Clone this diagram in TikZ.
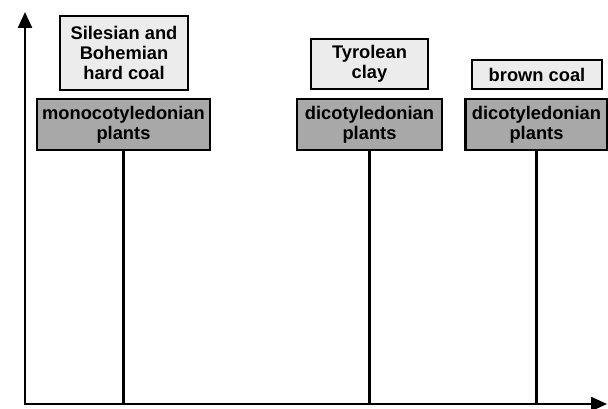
\documentclass[tikz,border=0pt]{standalone}
\usepackage{fontspec}
\setmainfont{Liberation Sans}
\usetikzlibrary{arrows.meta}
\definecolor{lightbox}{RGB}{236,236,236}
\definecolor{darkbox}{RGB}{168,168,168}
\begin{document}
\begin{tikzpicture}[x=1pt,y=1pt,
  every node/.style={inner sep=0pt, align=center, font=\fontsize{18.3}{20}\selectfont\bfseries},
  lightbx/.style={draw=black, line width=2.4pt, fill=lightbox},
  darkbx/.style={draw=black, line width=2.4pt, fill=darkbox},
  conn/.style={line width=2.4pt},
  axis/.style={line width=2.4pt, -{Triangle[length=16pt,width=14pt]}}]
\useasboundingbox (0,0) rectangle (608,408);
\coordinate (O) at (25,4);
\coordinate (Ytop) at (25,396);
\coordinate (Xend) at (607,4);
% boxes
\node[lightbx, minimum width=128pt, minimum height=74pt] (silesian) at (124,355) {Silesian and\\Bohemian\\hard coal};
\node[darkbx, minimum width=173pt, minimum height=51pt] (mono) at (123.5,283.5) {monocotyledonian\\plants};
\node[lightbx, minimum width=117pt, minimum height=50pt] (tyrol) at (369.5,344) {Tyrolean\\clay};
\node[darkbx, minimum width=145pt, minimum height=51pt] (dico1) at (369.5,283.5) {dicotyledonian\\plants};
\node[lightbx, minimum width=130pt, minimum height=29pt] (brown) at (537,333.5) {brown coal};
\node[darkbx, minimum width=142pt, minimum height=51pt] (dico2) at (536.5,283.5) {dicotyledonian\\plants};
% connectors
\draw[conn] (mono.south) -- (mono.south |- O);
\draw[conn] (dico1.south) -- (dico1.south |- O);
\draw[conn] (dico2.south) -- (dico2.south |- O);
% axes
\draw[axis] ([xshift=-1.2pt]O) -- (Xend);
\draw[axis] ([yshift=-1.2pt]O) -- (Ytop);
\end{tikzpicture}
\end{document}
